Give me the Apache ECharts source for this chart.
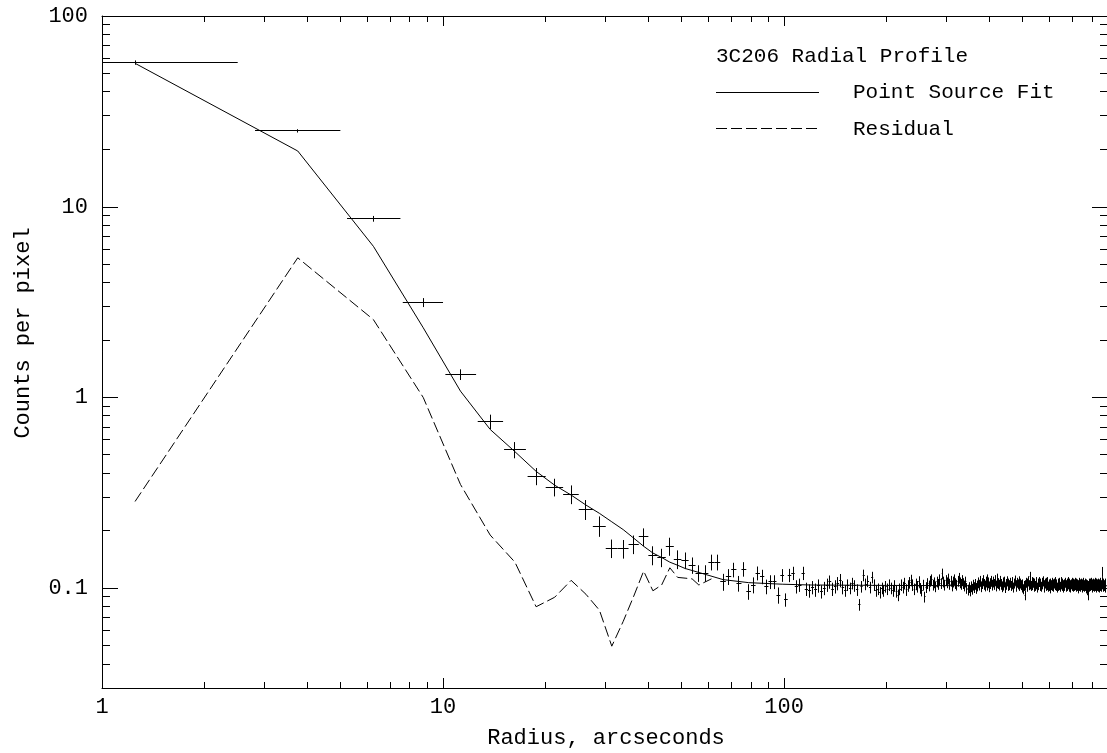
<!DOCTYPE html>
<html>
<head>
<meta charset="utf-8">
<script src="https://cdn.jsdelivr.net/npm/echarts@6/dist/echarts.min.js"></script>
<style>html,body{margin:0;padding:0;background:#fff}#c{width:1107px;height:753px}</style>
</head>
<body>
<div id="c"></div>
<script>
// ---------------- DATA ----------------
// Radial bins are 2.5 arcsec wide; each point sits at the bin centre.
const BIN_WIDTH = 2.5;

// Counts per pixel in each radial bin (bin 0 = 1.25", bin 1 = 3.75", ...)
const counts = [
  57, 25, 8.65, 3.15, 1.32, 0.748, 0.532, 0.387, 0.339, 0.311,
  0.259, 0.212, 0.162, 0.161, 0.170, 0.186, 0.149, 0.145, 0.166, 0.142,
  0.140, 0.132, 0.120, 0.120, 0.137, 0.137, 0.108, 0.115, 0.125, 0.106,
  0.126, 0.096, 0.104, 0.120, 0.115, 0.102, 0.108, 0.108, 0.092, 0.117,
  0.087, 0.117, 0.120, 0.102,
  0.104, 0.120, 0.099, 0.097, 0.101, 0.098, 0.103, 0.096, 0.100, 0.104,
  0.108, 0.099, 0.102, 0.106, 0.110, 0.101, 0.097, 0.104, 0.100, 0.106,
  0.103, 0.098, 0.082, 0.102, 0.117, 0.105, 0.109, 0.101, 0.114, 0.104,
  0.097, 0.099, 0.095, 0.100, 0.097, 0.102, 0.099, 0.104, 0.100, 0.097,
  0.103, 0.096, 0.092, 0.099, 0.104, 0.101, 0.106, 0.098, 0.103, 0.107,
  0.110, 0.104, 0.099, 0.105, 0.102, 0.108, 0.100, 0.097, 0.104, 0.090,
  0.101, 0.106, 0.103, 0.109, 0.111, 0.104, 0.107, 0.102, 0.108, 0.105,
  0.111, 0.106, 0.119, 0.108, 0.104, 0.110, 0.107, 0.112, 0.105, 0.109,
  0.103, 0.108, 0.111, 0.106, 0.104, 0.109, 0.113, 0.107, 0.105, 0.110,
  0.106, 0.103, 0.108, 0.100, 0.098, 0.101, 0.097, 0.102, 0.099, 0.104,
  0.101, 0.105, 0.100, 0.103, 0.107, 0.104, 0.109, 0.102, 0.106, 0.110,
  0.105, 0.103, 0.108, 0.111, 0.104, 0.107, 0.102, 0.106, 0.109, 0.104,
  0.108, 0.105, 0.110, 0.103, 0.107, 0.112, 0.106, 0.104, 0.109, 0.105,
  0.102, 0.107, 0.104, 0.108, 0.101, 0.105, 0.109, 0.103, 0.106, 0.104,
  0.107, 0.103, 0.108, 0.105, 0.101, 0.106, 0.110, 0.104, 0.102, 0.107,
  0.105, 0.109, 0.103, 0.106, 0.104, 0.101, 0.105, 0.099, 0.103, 0.092,
  0.104, 0.107, 0.102, 0.106, 0.109, 0.104, 0.115, 0.105, 0.103, 0.108,
  0.104, 0.107, 0.102, 0.106, 0.103, 0.108, 0.105, 0.101, 0.106, 0.104,
  0.108, 0.103, 0.106, 0.102, 0.107, 0.105, 0.109, 0.104, 0.101, 0.106,
  0.103, 0.107, 0.104, 0.108, 0.102, 0.105, 0.103, 0.106, 0.100, 0.104,
  0.107, 0.103, 0.105, 0.102, 0.106, 0.104, 0.108, 0.103, 0.105, 0.101,
  0.106, 0.103, 0.107, 0.104, 0.102, 0.105, 0.108, 0.103, 0.106, 0.104,
  0.101, 0.105, 0.103, 0.107, 0.104, 0.102, 0.106, 0.103, 0.108, 0.105,
  0.102, 0.106, 0.104, 0.101, 0.105, 0.107, 0.103, 0.106, 0.102, 0.105,
  0.103, 0.107, 0.104, 0.102, 0.106, 0.103, 0.105, 0.100, 0.104, 0.107,
  0.103, 0.105, 0.102, 0.106, 0.104, 0.101, 0.105, 0.103, 0.107, 0.104,
  0.102, 0.106, 0.103, 0.105, 0.100, 0.104, 0.098, 0.092, 0.103, 0.106,
  0.104, 0.102, 0.106, 0.103, 0.107, 0.104, 0.101, 0.105, 0.103, 0.106,
  0.102, 0.105, 0.103, 0.107, 0.104, 0.101, 0.106, 0.103, 0.105, 0.102,
  0.106, 0.104, 0.101, 0.105, 0.103, 0.107, 0.104, 0.102, 0.108, 0.122,
  0.105, 0.102, 0.106, 0.103, 0.104, 0.101, 0.106, 0.104
];

// 1-sigma count errors of the inner bins (absolute)
const countErrInner = [
  1.5, 0.5, 0.30, 0.17, 0.085, 0.065, 0.052, 0.040, 0.036, 0.035,
  0.031, 0.026, 0.018, 0.018, 0.019, 0.020, 0.017, 0.016, 0.018, 0.016,
  0.014, 0.013, 0.012, 0.012, 0.013, 0.013, 0.011, 0.011, 0.011, 0.010,
  0.011, 0.009, 0.010, 0.010, 0.010, 0.009, 0.009, 0.009, 0.009, 0.009
];
// relative errors of the outer bins: [upper radius, fraction]
const countErrOuter = [[150, 0.08], [250, 0.07], [450, 0.065], [1000, 0.06]];
// lower half-width of the radius error bar for the innermost bins (arcsec)
const radiusErrMinus = [1.25, 0.94, 1.02, 1.13, 1.09, 1.11, 1.15, 1.05];
const radiusErrPlus = 1.25;

// Point source fit
const fitRadius = [1.25, 3.75, 6.25, 8.75, 11.25, 13.75, 16.25, 18.75, 21.25, 23.75,
  26.25, 28.75, 31.25, 33.75, 36.25, 38.75, 41.25, 43.75, 46.25, 48.75,
  51.25, 56.25, 66.25, 78.75, 98.75, 120, 200, 400, 891];
const fitCounts = [56.5, 19.6, 6.2, 2.32, 1.08, 0.68, 0.52, 0.41, 0.347, 0.308,
  0.273, 0.247, 0.223, 0.203, 0.183, 0.166, 0.153, 0.145, 0.137, 0.132,
  0.127, 0.121, 0.111, 0.107, 0.105, 0.104, 0.1035, 0.103, 0.103];

// Residual
const residRadius = [1.25, 3.75, 6.25, 8.75, 11.25, 13.75, 16.25, 18.75, 21.25, 23.75,
  26.25, 28.75, 31.25, 33.75, 36.25, 38.75, 41.25, 43.75, 46.25, 48.75,
  51.25, 53.75, 56.25, 58.75, 61.25];
const residCounts = [0.285, 5.4, 2.56, 1.0, 0.35, 0.19, 0.137, 0.080, 0.0897, 0.110,
  0.093, 0.0767, 0.0497, 0.067, 0.091, 0.123, 0.097, 0.104, 0.128, 0.114,
  0.113, 0.112, 0.104, 0.108, 0.112];

// Axis settings / tick marks
const X_MIN = 1, X_MAX = 891, Y_MIN = 0.03, Y_MAX = 100;
const xMinorTicks = [2,3,4,5,6,7,8,9,20,30,40,50,60,70,80,90,200,300,400,500,600,700,800];
const yMinorTicks = [0.04,0.05,0.06,0.07,0.08,0.09,0.2,0.3,0.4,0.5,0.6,0.7,0.8,0.9,
  2,3,4,5,6,7,8,9,20,30,40,50,60,70,80,90];

const TITLE = '3C206 Radial Profile';
const FIT_NAME = 'Point Source Fit';
const RESID_NAME = 'Residual';
const X_NAME = 'Radius, arcseconds';
const Y_NAME = 'Counts per pixel';

// ---------------- CHART ----------------
const FONT_FAMILY = '"Liberation Mono"';
const FONT_SIZE = 22;
const FONT = FONT_SIZE + 'px ' + FONT_FAMILY;
const LEGEND_FONT = '21px ' + FONT_FAMILY;
const INK = '#000';

function relErr(r) {
  for (const [rmax, f] of countErrOuter) if (r <= rmax) return f;
  return countErrOuter[countErrOuter.length - 1][1];
}

const errRows = counts.map((c, i) => {
  const r = (i + 0.5) * BIN_WIDTH;
  const em = i < radiusErrMinus.length ? radiusErrMinus[i] : radiusErrPlus;
  const e = i < countErrInner.length ? countErrInner[i] : c * relErr(r);
  return [r, c, Math.max(r - em, X_MIN), r + radiusErrPlus, c - e, c + e];
});

function decadeLabel(v) {
  const l = Math.log10(v);
  if (Math.abs(l - Math.round(l)) > 1e-6) return '';
  const p = Math.round(l);
  return p < 0 ? Math.pow(10, p).toFixed(-p) : String(Math.pow(10, p));
}

const crisp = v => Math.round(v - 0.5) + 0.5;

const chart = echarts.init(document.getElementById('c'), null, {renderer: 'canvas'});

const labelStyle = {color: INK, fontFamily: 'Liberation Mono', fontSize: FONT_SIZE};

chart.setOption({
  animation: false,
  backgroundColor: '#fff',
  grid: {left: 102, top: 16, width: 1006, height: 672, containLabel: false, outerBoundsMode: 'none'},
  xAxis: [
    {type: 'log', logBase: 10, min: X_MIN, max: X_MAX, position: 'bottom',
     axisLine: {show: true, lineStyle: {color: INK, width: 1}},
     axisTick: {show: true, inside: true, length: 10, lineStyle: {color: INK, width: 1}},
     minorTick: {show: false}, splitLine: {show: false},
     axisLabel: Object.assign({formatter: decadeLabel, margin: 8}, labelStyle)},
    {type: 'log', logBase: 10, min: X_MIN, max: X_MAX, position: 'top',
     axisLine: {show: true, onZero: false, lineStyle: {color: INK, width: 1}},
     axisTick: {show: true, inside: true, length: 10, lineStyle: {color: INK, width: 1}},
     minorTick: {show: false}, splitLine: {show: false}, axisLabel: {show: false}}
  ],
  yAxis: [
    {type: 'log', logBase: 10, min: Y_MIN, max: Y_MAX, position: 'left',
     axisLine: {show: true, lineStyle: {color: INK, width: 1}},
     axisTick: {show: true, inside: true, length: 16, lineStyle: {color: INK, width: 1}},
     minorTick: {show: false}, splitLine: {show: false},
     axisLabel: Object.assign({formatter: decadeLabel, margin: 14}, labelStyle)},
    {type: 'log', logBase: 10, min: Y_MIN, max: Y_MAX, position: 'right',
     axisLine: {show: true, lineStyle: {color: INK, width: 1}},
     axisTick: {show: true, inside: true, length: 16, lineStyle: {color: INK, width: 1}},
     minorTick: {show: false}, splitLine: {show: false}, axisLabel: {show: false}}
  ],
  series: [
    {
      type: 'custom', name: 'data', xAxisIndex: 0, yAxisIndex: 0, silent: true, z: 3,
      data: errRows, encode: {x: 0, y: 1},
      renderItem: function (params, api) {
        const x = api.value(0), y = api.value(1);
        const pL = api.coord([api.value(2), y]);
        const pR = api.coord([api.value(3), y]);
        const pB = api.coord([x, api.value(4)]);
        const pT = api.coord([x, api.value(5)]);
        const yy = crisp(pL[1]);
        const xx = crisp(pB[0]);
        const st = {stroke: INK, lineWidth: 1};
        return {type: 'group', children: [
          {type: 'line', shape: {x1: pL[0], y1: yy, x2: pR[0], y2: yy}, style: st},
          {type: 'line', shape: {x1: xx, y1: pB[1], x2: xx, y2: pT[1]}, style: st}
        ]};
      }
    },
    {
      type: 'line', name: FIT_NAME, xAxisIndex: 0, yAxisIndex: 0, z: 4,
      data: fitRadius.map((r, i) => [r, fitCounts[i]]),
      showSymbol: false, symbol: 'none', silent: true,
      lineStyle: {color: INK, width: 1}
    },
    {
      type: 'line', name: RESID_NAME, xAxisIndex: 0, yAxisIndex: 0, z: 4,
      data: residRadius.map((r, i) => [r, residCounts[i]]),
      showSymbol: false, symbol: 'none', silent: true,
      lineStyle: {color: INK, width: 1, type: [11, 4]}
    },
    {
      type: 'custom', name: 'xMinor', xAxisIndex: 0, yAxisIndex: 0, silent: true, clip: false, z: 5,
      data: xMinorTicks.map(v => [v, 1]), encode: {x: 0, y: 1},
      renderItem: function (params, api) {
        const cs = params.coordSys;
        const x = crisp(api.coord([api.value(0), 1])[0]);
        const st = {stroke: INK, lineWidth: 1};
        return {type: 'group', children: [
          {type: 'line', shape: {x1: x, y1: cs.y + cs.height, x2: x, y2: cs.y + cs.height - 6}, style: st},
          {type: 'line', shape: {x1: x, y1: cs.y, x2: x, y2: cs.y + 6}, style: st}
        ]};
      }
    },
    {
      type: 'custom', name: 'yMinor', xAxisIndex: 0, yAxisIndex: 0, silent: true, clip: false, z: 5,
      data: yMinorTicks.map(v => [1, v]), encode: {x: 0, y: 1},
      renderItem: function (params, api) {
        const cs = params.coordSys;
        const y = crisp(api.coord([1, api.value(1)])[1]);
        const st = {stroke: INK, lineWidth: 1};
        return {type: 'group', children: [
          {type: 'line', shape: {x1: cs.x, y1: y, x2: cs.x + 8, y2: y}, style: st},
          {type: 'line', shape: {x1: cs.x + cs.width, y1: y, x2: cs.x + cs.width - 8, y2: y}, style: st}
        ]};
      }
    }
  ],
  graphic: [
    {type: 'text', x: 716, y: 56, style: {text: TITLE, fill: INK, font: LEGEND_FONT, textVerticalAlign: 'middle'}},
    {type: 'line', shape: {x1: 716, y1: 92.5, x2: 819, y2: 92.5}, style: {stroke: INK, lineWidth: 1}},
    {type: 'text', x: 853, y: 92, style: {text: FIT_NAME, fill: INK, font: LEGEND_FONT, textVerticalAlign: 'middle'}},
    {type: 'line', shape: {x1: 716, y1: 128.5, x2: 819, y2: 128.5}, style: {stroke: INK, lineWidth: 1, lineDash: [11, 4]}},
    {type: 'text', x: 853, y: 129, style: {text: RESID_NAME, fill: INK, font: LEGEND_FONT, textVerticalAlign: 'middle'}},
    {type: 'text', x: 606, y: 738, style: {text: X_NAME, fill: INK, font: FONT, textAlign: 'center', textVerticalAlign: 'middle'}},
    {type: 'text', x: 23, y: 333, rotation: Math.PI / 2, style: {text: Y_NAME, fill: INK, font: FONT, textAlign: 'center', textVerticalAlign: 'middle'}}
  ]
});
</script>
</body>
</html>
